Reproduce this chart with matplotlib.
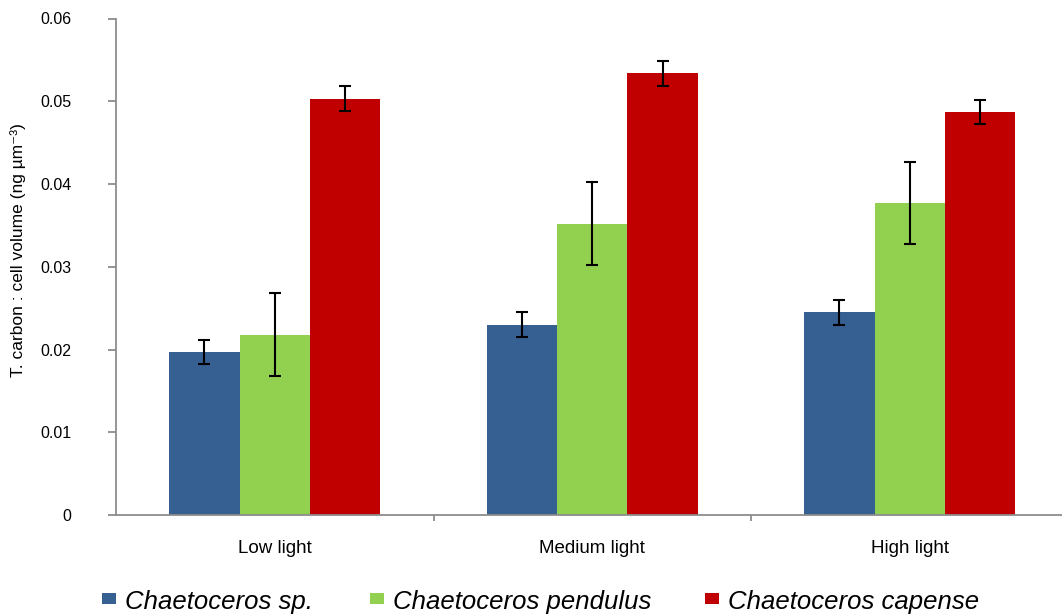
import matplotlib
matplotlib.use("Agg")
import matplotlib.pyplot as plt
import numpy as np
from matplotlib.patches import Rectangle

# Light treatments and species
conditions = ["Low light", "Medium light", "High light"]
species = ["Chaetoceros sp.", "Chaetoceros pendulus", "Chaetoceros capense"]

# Total carbon : cell volume (ng µm^-3), means and standard errors
sp_mean = [0.0197, 0.0230, 0.0245]
sp_err = [0.0015, 0.0015, 0.0015]
pendulus_mean = [0.0218, 0.0352, 0.0377]
pendulus_err = [0.0050, 0.0050, 0.0050]
capense_mean = [0.0503, 0.0534, 0.0487]
capense_err = [0.0015, 0.0015, 0.0014]

colors = ["#376092", "#92D050", "#C00000"]
means = [sp_mean, pendulus_mean, capense_mean]
errs = [sp_err, pendulus_err, capense_err]

plt.rcParams["font.family"] = ["Liberation Sans", "DejaVu Sans"]

W, H = 1062, 614
fig = plt.figure(figsize=(W / 100, H / 100), dpi=100)
left, right = 116, 1068.5
bottom, top = 515, 18.5
ax = fig.add_axes([left / W, (H - bottom) / H, (right - left) / W, (bottom - top) / H])

x = np.arange(len(conditions))
bw = 0.2215
for i, (m, e, c) in enumerate(zip(means, errs, colors)):
    pos = x + (i - 1) * bw
    ax.bar(pos, m, width=bw, color=c, edgecolor="none", zorder=2)
    ax.errorbar(pos, m, yerr=e, fmt="none", ecolor="black", elinewidth=1.5,
                capsize=4.5, capthick=1.5, zorder=3)

ax.set_xlim(-0.5, 2.5)
ax.set_ylim(0, 0.06)
ax.set_yticks(np.arange(0, 0.0601, 0.01))
ax.set_yticklabels(["0", "0.01", "0.02", "0.03", "0.04", "0.05", "0.06"])
ax.set_xticks(x)
ax.set_xticklabels(conditions)
ax.set_xticks([0.5, 1.5, 2.5], minor=True)

for s in ["top", "right"]:
    ax.spines[s].set_visible(False)
for s in ["left", "bottom"]:
    ax.spines[s].set_color("#8c8c8c")
    ax.spines[s].set_linewidth(1.3)

ax.tick_params(axis="y", direction="out", length=6, width=1.3, color="#8c8c8c",
               labelsize=11.5, pad=26)
ax.tick_params(axis="x", which="major", length=0, labelsize=13.5, pad=18)
ax.tick_params(axis="x", which="minor", direction="out", length=4, width=1.3,
               color="#8c8c8c")

fig.text(18 / W, 1 - 250 / H, "T. carbon : cell volume (ng µm⁻³)", rotation=90,
         ha="center", va="center", fontsize=12.5)

# Legend row along the bottom edge
legend_text_x = [125, 393, 728]
for name, c, tx in zip(species, colors, legend_text_x):
    fig.patches.append(Rectangle(((tx - 23) / W, 1 - 603.5 / H), 13.5 / W, 10.5 / H,
                                 transform=fig.transFigure, facecolor=c,
                                 edgecolor="none"))
    fig.text(tx / W, 1 - 609 / H, name, ha="left", va="baseline",
             fontsize=18.5, style="italic")

fig.savefig("out.png", dpi=100)
